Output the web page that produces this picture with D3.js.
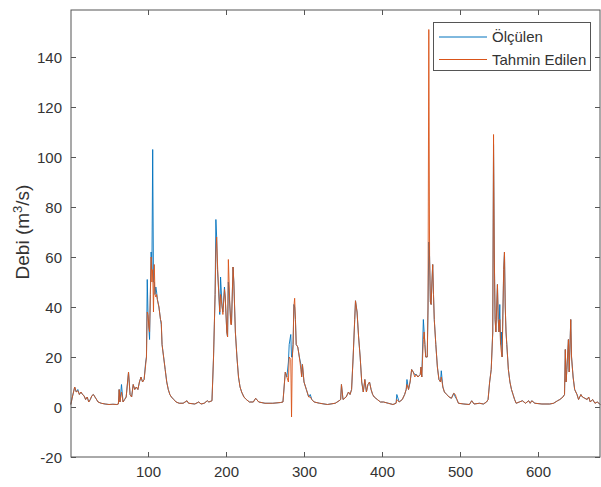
<!DOCTYPE html>
<html><head><meta charset="utf-8">
<script src="https://cdn.jsdelivr.net/npm/d3@7"></script>
<style>
html,body{margin:0;padding:0;background:#fff;}
svg{display:block;font-family:"Liberation Sans",Arial,sans-serif;}
</style></head>
<body><svg id="c" width="601" height="487"></svg>
<script>
const days = [1,3,6,8,10,12,14,16,18,20,22,24,26,28,30,33,36,40,45,50,55,60,62,63,64,66,68,70,72,75,77,79,81,83,85,87,89,91,93,95,97,98,99,100,101,102,103,104,105,106,107,108,109,110,111,112,114,116,117,118,120,122,124,126,128,130,133,136,140,145,150,152,160,165,168,172,176,178,182,184,186,187,188,189,190,192,193,195,196,198,199,201,202,203,205,206,207,209,210,211,212,214,216,218,220,223,226,230,235,238,242,250,260,270,273,275,276,278,280,281,283,284,285,286,287,288,289,290,292,294,296,297,298,300,303,306,308,310,313,320,330,340,345,347,348,350,354,357,359,361,363,365,366,368,370,372,374,376,378,380,382,384,386,388,390,394,398,402,408,414,418,419,422,426,429,431,432,434,436,438,440,442,444,446,449,450,451,453,454,455,456,458,459,460,461,462,463,464,465,466,467,469,471,473,475,476,478,480,483,486,489,492,494,496,498,505,512,515,518,525,530,534,536,538,540,542,543,544,545,546,548,549,550,551,552,553,554,556,557,558,559,560,562,564,566,568,570,572,576,580,584,588,590,592,596,605,615,620,625,628,632,634,635,636,637,639,640,642,643,645,647,650,652,655,657,660,663,665,667,670,673,676,680];
const olculen = [1,4,8,6,7,5,6,5,4.5,3,4,2,3,4.5,5,3.5,2,1.5,1.2,1,1.1,1,1.2,7,2,9,2,3,4,14,5,4,9,7,8,7,10,12,10,11,18,20,51,37,32,27,45,62,55,103,50,50,45,48,46,43,40,35,33,25,20,15,10,7,5,4,3,2,1.5,1.5,2.5,1.5,1.2,2,1.2,1.5,2.5,2,2.5,20,45,75,68,55,50,37,52,40,38,48,44,30,28,50,40,35,33,56,50,40,30,20,12,8,6,4,3,2,2,3.5,2,1.5,1.5,1.8,2,10,14,12,18,25,29,20,20,25,41,40,35,25,24,20,17,12,17,10,7,4,5,3,2,1.5,1,1.5,2.5,3,9,3,4,6,5,7,20,35,42.5,38,28,20,10,6,11,6,9,10,7,5,4,3,2,2,1.5,1,1.5,5,2,3,5,7,11,7,10,15,14,13,13,12,13,16,12,35,30,25,20,20,40,66,60,42,41,50,57,45,35,25,16,11,10,14.5,8,6,5,4,3.5,5.5,4,3,1.5,1.2,1,2.5,1.2,1.5,1.2,2,3,10,15,30,105,60,35,30,49,35,30,41,25,30,20,55,62,40,30,25,15,10,7,5,3,1.5,2,2.5,1.5,2.5,1.5,2.5,1.5,1.2,1.2,1.5,2.5,3,4,5,23,10,15,27,14,35,20,12,7,5,3,5,4,3.5,3,4,2,3,1.5,2,1];
const tahmin = [1,4,8,6,6.5,5,6,5,4.5,3,4,2,3,4.5,5,3.5,2,1.5,1.2,1,1.1,1,1.2,7,2,6,2,3,4,14,5,4,9,7,8,7,10,12,10,11,17,20,38,37,32,30,45,60,50,55,38,57,45,44,45,43,40,35,34,25,20,15,10,7,5,4,3,2,1.5,1.5,2.5,1.5,1.2,2,1.2,1.5,2.5,2,2.5,20,45,62,68,58,50,38,45,40,37,47,44,30,28,59,40,33,33,56,50,40,30,20,12,8,6,4,3,2,2,3.5,2,1.5,1.5,1.8,2,10,14,12,10,20,19,-4,20,25,40,43.5,35,25,24,20,15,12,17,10,7,4,4,3,2,1.5,1,1.5,2.5,3,9,3,4,6,5,7,20,35,42.5,38,28,20,10,6,11,6,9,10,7,5,4,3,2,2,1.5,1,1.5,3,2,3,5,7,9,7,10,15,14,12,13,12,13,16,12,27,30,25,20,20,40,151,60,42,41,50,57,45,35,25,16,11,10,12,8,6,5,4,3.5,5.5,5,3,1.5,1.2,1,2.5,1.2,1.5,1.2,2,3,10,15,30,109,60,35,30,49,35,30,35,25,22,20,55,62,40,30,25,15,10,7,5,3,1.5,2,2.5,1.5,2.5,1.5,2.5,1.5,1.2,1.2,1.5,2.5,3,4,5,23,10,15,27,14,35,20,12,7,5,3,5,4,3.5,3,4,2,3,1.5,2,1];
const xTicks = [100,200,300,400,500,600];
const yTicks = [-20,0,20,40,60,80,100,120,140];
const seriesNames = ["Ölçülen","Tahmin Edilen"];
const seriesColors = ["#0072BD","#D95319"];

const svg = d3.select("#c");
const L = 71, R = 600, T = 10, B = 457;
const x = d3.scaleLinear().domain([1,680]).range([70.8,600.4]);
const y = d3.scaleLinear().domain([-20,158.8]).range([B,T]);
const axisCol = "#333333", gridCol = "#555555";
const fmt = d => String(d);

svg.append("rect").attr("x",L).attr("y",T).attr("width",R-L).attr("height",B-T)
  .attr("fill","#fff").attr("stroke","none");

const line = d3.line().x((d,i)=>x(days[i])).y(d=>y(d));
const g = svg.append("g");
[olculen, tahmin].forEach((s,k)=>{
  g.append("path").datum(s).attr("d",line).attr("fill","none")
   .attr("stroke",seriesColors[k]).attr("stroke-width",0.9).attr("stroke-linejoin","round");
});

const tk = 5;
const xa = svg.append("g").attr("transform",`translate(0,${B})`).call(d3.axisBottom(x).tickValues(xTicks).tickFormat(fmt).tickSizeInner(-tk).tickSizeOuter(0).tickPadding(9));
const xt = svg.append("g").attr("transform",`translate(0,${T})`).call(d3.axisTop(x).tickValues(xTicks).tickSizeInner(-tk).tickSizeOuter(0).tickFormat(""));
const ya = svg.append("g").attr("transform",`translate(${L},0)`).call(d3.axisLeft(y).tickValues(yTicks).tickFormat(fmt).tickSizeInner(-tk).tickSizeOuter(0).tickPadding(9));
const yr = svg.append("g").attr("transform",`translate(${R},0)`).call(d3.axisRight(y).tickValues(yTicks).tickSizeInner(-tk).tickSizeOuter(0).tickFormat(""));
[xa,xt,ya,yr].forEach(a=>{
  a.select(".domain").remove();
  a.selectAll(".tick line").attr("stroke",gridCol);
  a.selectAll("text").attr("fill",axisCol).style("font-size","15px").style("font-family","'Liberation Sans',Arial,sans-serif");
});
ya.selectAll("text").attr("dy","0.35em");
svg.append("rect").attr("x",L).attr("y",T).attr("width",R-L).attr("height",B-T)
  .attr("fill","none").attr("stroke",gridCol).attr("stroke-width",1);

const yl = svg.append("text").attr("transform","translate(29,232) rotate(-90)")
  .attr("text-anchor","middle").attr("fill",axisCol).style("font-size","19px");
yl.append("tspan").text("Debi (m");
yl.append("tspan").attr("dy","-7").style("font-size","13px").text("3");
yl.append("tspan").attr("dy","7").text("/s)");

const lg = svg.append("g");
lg.append("rect").attr("x",433.5).attr("y",22.5).attr("width",157).attr("height",48)
  .attr("fill","#fff").attr("stroke",gridCol).attr("stroke-width",1);
seriesNames.forEach((n,i)=>{
  const yy = 37 + i*22.5;
  lg.append("line").attr("x1",439).attr("x2",487).attr("y1",yy).attr("y2",yy)
    .attr("stroke",seriesColors[i]).attr("stroke-width",1);
  lg.append("text").attr("x",492).attr("y",yy).attr("dy","0.35em")
    .attr("fill",axisCol).style("font-size","15px").text(n);
});
</script></body></html>
